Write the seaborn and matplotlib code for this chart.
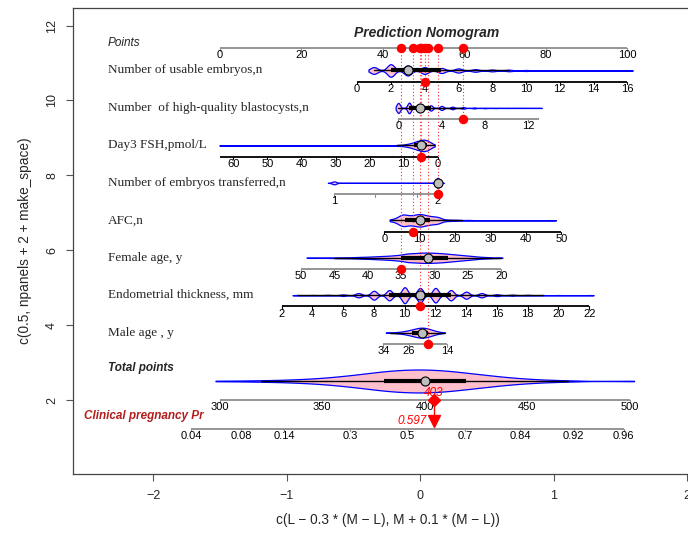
import numpy as np
import seaborn as sns
import matplotlib.pyplot as plt

sns.set_style('ticks')
plt.rcParams['font.family'] = ['Liberation Sans', 'DejaVu Sans']

# ---- nomogram rows (top to bottom) ----
row_labels = ['Number of usable embryos,n', 'Number  of high-quality blastocysts,n', 'Day3 FSH,pmol/L',
              'Number of embryos transferred,n', 'AFC,n', 'Female age, y',
              'Endometrial thickness, mm', 'Male age , y']

# points = intercept + slope * value
pts_intercept = [33.6, 43.75, 53.4, 2.6, 40.3, 101.75, 7.55, 66.8]
pts_slope = [4.15, 2.66, -0.835, 25.4, 0.870, -1.637, 3.776, -0.785]

# scale ends + tick labels of every row
axis_ends = [(0, 16), (0, 13), (64, 0), (1, 2), (0, 50), (50, 20), (2, 22), (34, 14)]
usable_ticks = [0, 2, 4, 6, 8, 10, 12, 14, 16]
blast_ticks = [0, 4, 8, 12]
fsh_ticks = [60, 50, 40, 30, 20, 10, 0]
transfer_ticks = [1, 2]
transfer_minor = [1.4, 1.8]
afc_ticks = [0, 10, 20, 30, 40, 50]
female_ticks = [50, 45, 40, 35, 30, 25, 20]
endo_ticks = [2, 4, 6, 8, 10, 12, 14, 16, 18, 20, 22]
male_ticks = [34, 26, 14]

# distributions behind the violins (values + counts)
usable_vals = [1, 2, 3, 4, 5, 6, 7, 8, 9, 10, 11, 12, 13, 14, 15, 16]
usable_counts = [54, 100, 80, 54, 40, 33, 20, 14, 12, 8, 5, 3, 2, 1, 1, 1]
blast_vals = [0, 1, 2, 3, 4, 5, 6, 7, 8, 9, 10, 11, 12, 13]
blast_counts = [85, 90, 70, 45, 35, 22, 14, 8, 5, 3, 2, 1, 1, 1]
fsh_vals = [1, 2, 3, 4, 5, 6, 7, 8, 9, 10, 11, 12, 14, 16, 20, 25, 30, 40, 64]
fsh_counts = [15, 40, 70, 80, 75, 60, 45, 30, 20, 12, 8, 6, 5, 3, 2, 1, 1, 1, 1]
transfer_vals = [1, 2]
transfer_counts = [90, 310]
afc_vals = [2, 3, 4, 5, 6, 7, 8, 9, 10, 11, 12, 13, 14, 15, 16, 18, 20, 22, 24, 30, 48]
afc_counts = [12, 10, 25, 55, 40, 35, 38, 40, 55, 40, 38, 30, 28, 30, 18, 10, 8, 4, 6, 1, 1]
female_vals = list(range(20, 50))
female_counts = [1, 2, 4, 6, 10, 14, 18, 22, 26, 30, 32, 34, 33, 30, 29,
                 20, 16, 13, 11, 9, 7, 6, 4, 3, 3, 2, 1, 1, 1, 1]
endo_vals = [3, 4, 5, 6, 7, 8, 9, 10, 11, 12, 13, 14, 15, 16, 17, 18, 19, 20, 22]
endo_counts = [1, 1, 2, 4, 12, 25, 29, 45, 41, 41, 29, 20, 12, 5, 3, 2, 1, 1, 1]
male_vals = list(range(15, 34))
male_counts = [1, 3, 6, 10, 15, 20, 24, 25, 24, 20, 16, 12, 9, 6, 4, 3, 2, 1, 1]
total_vals = [300, 310, 320, 330, 340, 350, 360, 370, 380, 390, 400, 410, 420, 430, 440, 450, 460, 470, 500]
total_counts = [1, 1, 2, 3, 5, 8, 13, 19, 26, 30, 31, 28, 22, 16, 10, 6, 3, 2, 1]

points_ticks = [0, 20, 40, 60, 80, 100]
total_ticks = [300, 350, 400, 450, 500]
prob_ticks = [0.04, 0.08, 0.14, 0.3, 0.5, 0.7, 0.84, 0.92, 0.96]
lp_center, lp_scale = 391.6, 33.18  # total points at logit 0, points per logit unit

# the patient shown
patient = [4, 6, 5, 2, 8, 35, 11, 20]
total_text = '403'
prob_text = '0.597'

row_vals = [usable_vals, blast_vals, fsh_vals, transfer_vals, afc_vals, female_vals, endo_vals, male_vals]
row_counts = [usable_counts, blast_counts, fsh_counts, transfer_counts, afc_counts,
              female_counts, endo_counts, male_counts]
row_ticks = [usable_ticks, blast_ticks, fsh_ticks, transfer_ticks, afc_ticks,
             female_ticks, endo_ticks, male_ticks]

# ---- layout (data units of the R plot) ----
PY = 37.55           # pixels per y unit
P0, PS = -1.5015, 0.030545   # x of 0 points, x per point
T0, TS = -1.503, 0.015364    # x of 300 total points, x per total point
half_px = [6.3, 5.3, 5.8, 5, 6.3, 5.2, 8, 5]
bw_val = [0.21, 0.16, 0.5, 0.02, 0.95, 0.6, 0.19, 0.9]
cuts = [1.5, 1.5, 0.3, 3, 0.5, 0.3, 1.5, 0.3]
scale_cols = ['black', '#8C8C8C'] * 4
GRAY = '#8C8C8C'
lab_off, tick_len = 0.19, 0.07


def x_pts(p):
    return P0 + PS * np.asarray(p, dtype=float)


def x_tot(t):
    return T0 + TS * (np.asarray(t, dtype=float) - 300)


fig = plt.figure(figsize=(6.88, 5.4), dpi=100)
ax = fig.add_axes([73.3 / 688, 66.5 / 540, 629.7 / 688, 465.2 / 540])


def violin(xs, y, hpx, bw_x, cut):
    sd = np.std(xs, ddof=1)
    sns.violinplot(x=xs, y=np.full(len(xs), y), orient='h', native_scale=True,
                   width=2 * hpx / PY, bw_method=bw_x / sd, cut=cut, gridsize=800,
                   inner=None, color='pink', saturation=1, linecolor='blue',
                   linewidth=0.9, ax=ax)
    q1, med, q3 = np.percentile(xs, [25, 50, 75])
    iqr = q3 - q1
    lo = xs[xs >= q1 - 1.5 * iqr].min()
    hi = xs[xs <= q3 + 1.5 * iqr].max()
    ax.plot([lo, hi], [y, y], color='black', lw=1, zorder=3)
    ax.plot([q1, q3], [y, y], color='black', lw=3, solid_capstyle='butt', zorder=3)
    ax.plot(med, y, 'o', ms=6.5, mfc='#BEBEBE', mec='black', mew=0.8, zorder=4)


def scale(xs_ends, y, ticks, xs_ticks, color, minor=()):
    ax.plot(xs_ends, [y, y], color=color, lw=1.3, solid_capstyle='butt', zorder=2)
    for t, xt in zip(ticks, xs_ticks):
        ax.plot([xt, xt], [y, y - tick_len], color=color, lw=0.8, zorder=2)
        ax.text(xt, y - lab_off, f'{t:g}', ha='center', va='center', fontsize=8, color='black')
    for xt in minor:
        ax.plot([xt, xt], [y, y - tick_len], color=color, lw=0.8, zorder=2)


points_y = 11.40
patient_pts = []
for i, name in enumerate(row_labels):
    a, b = pts_intercept[i], pts_slope[i]
    yv = 10.80 - i
    ya = yv - 0.30
    ax.text(-2.34, yv, name, ha='left', va='center', fontsize=9.5,
            family=['Liberation Serif', 'DejaVu Serif'])
    data = np.repeat(row_vals[i], row_counts[i])
    violin(x_pts(a + b * data), yv, half_px[i], bw_val[i] * abs(b) * PS, cuts[i])
    minor = x_pts(a + b * np.array(transfer_minor)) if i == 3 else ()
    scale(x_pts([a + b * axis_ends[i][0], a + b * axis_ends[i][1]]), ya, row_ticks[i],
          x_pts(a + b * np.array(row_ticks[i])), scale_cols[i], minor)
    p = a + b * patient[i]
    patient_pts.append(p)
    ax.plot([x_pts(p)] * 2, [points_y, ya], ls=(0, (1, 2)), color='#FF3030', lw=0.8, zorder=1)
    ax.plot(x_pts(p), ya, 'o', color='red', ms=5.8, zorder=5)
    ax.plot(x_pts(p), points_y, 'o', color='red', ms=5.8, zorder=5)

# points scale
ax.text(0.05, 11.80, 'Prediction Nomogram', ha='center', va='center', fontsize=10,
        fontweight='bold', style='italic')
ax.text(-2.34, 11.53, 'Points', ha='left', va='center', fontsize=8.5, style='italic')
scale(x_pts([0, 100]), points_y, points_ticks, x_pts(points_ticks), GRAY)

# total points
ax.text(-2.34, 2.865, 'Total points', ha='left', va='center', fontsize=8.5,
        fontweight='bold', style='italic')
total_data = np.repeat(total_vals, total_counts)
violin(x_tot(total_data), 2.51, 11.5, 7 * TS, 0.3)
scale(x_tot([300, 500]), 2.0, total_ticks, x_tot(total_ticks), GRAY)

# probability scale
ax.text(-2.52, 1.57, 'Clinical pregnancy Pr', ha='left', va='center', fontsize=8.5,
        fontweight='bold', style='italic', color='#B21E1E')
logit = np.log(np.array(prob_ticks) / (1 - np.array(prob_ticks)))
prob_x = x_tot(lp_center + lp_scale * logit)
scale([prob_x[0], prob_x[-1]], 1.24, prob_ticks, prob_x, GRAY)

# patient total and probability
xt = x_tot(sum(patient_pts))
ax.plot([xt, xt], [2.0, 1.47], color='red', lw=1, zorder=5)
ax.plot(xt, 2.0, 'D', color='red', ms=6.5, zorder=6)
ax.plot(xt, 1.44, 'v', color='red', ms=8.5, zorder=6)
ax.text(xt, 2.2, total_text, ha='center', va='center', fontsize=8.5, style='italic', color='red')
ax.text(xt - 0.05, 1.43, prob_text, ha='right', va='center', fontsize=8.5, style='italic', color='red')

ax.set_xlim(-2.601, 2.119)
ax.set_ylim(0.04, 12.46)
ax.set_xticks([-2, -1, 0, 1, 2])
ax.set_yticks([2, 4, 6, 8, 10, 12])
ax.tick_params(axis='both', direction='out', length=5, width=0.8, color='#555555', labelsize=9)
ax.tick_params(axis='x', pad=7)
ax.tick_params(axis='y', pad=6, labelrotation=90)
for lab in ax.get_yticklabels():
    lab.set_va('center')
for s in ax.spines.values():
    s.set_visible(True)
    s.set_color('#444444')
    s.set_linewidth(0.9)
ax.set_xlabel('c(L \u2212 0.3 * (M \u2212 L), M + 0.1 * (M \u2212 L))', fontsize=9.8, labelpad=8)
ax.set_ylabel('c(0.5, npanels + 2 + make_space)', fontsize=9.8, labelpad=10)

fig.savefig('out.png', dpi=100)
